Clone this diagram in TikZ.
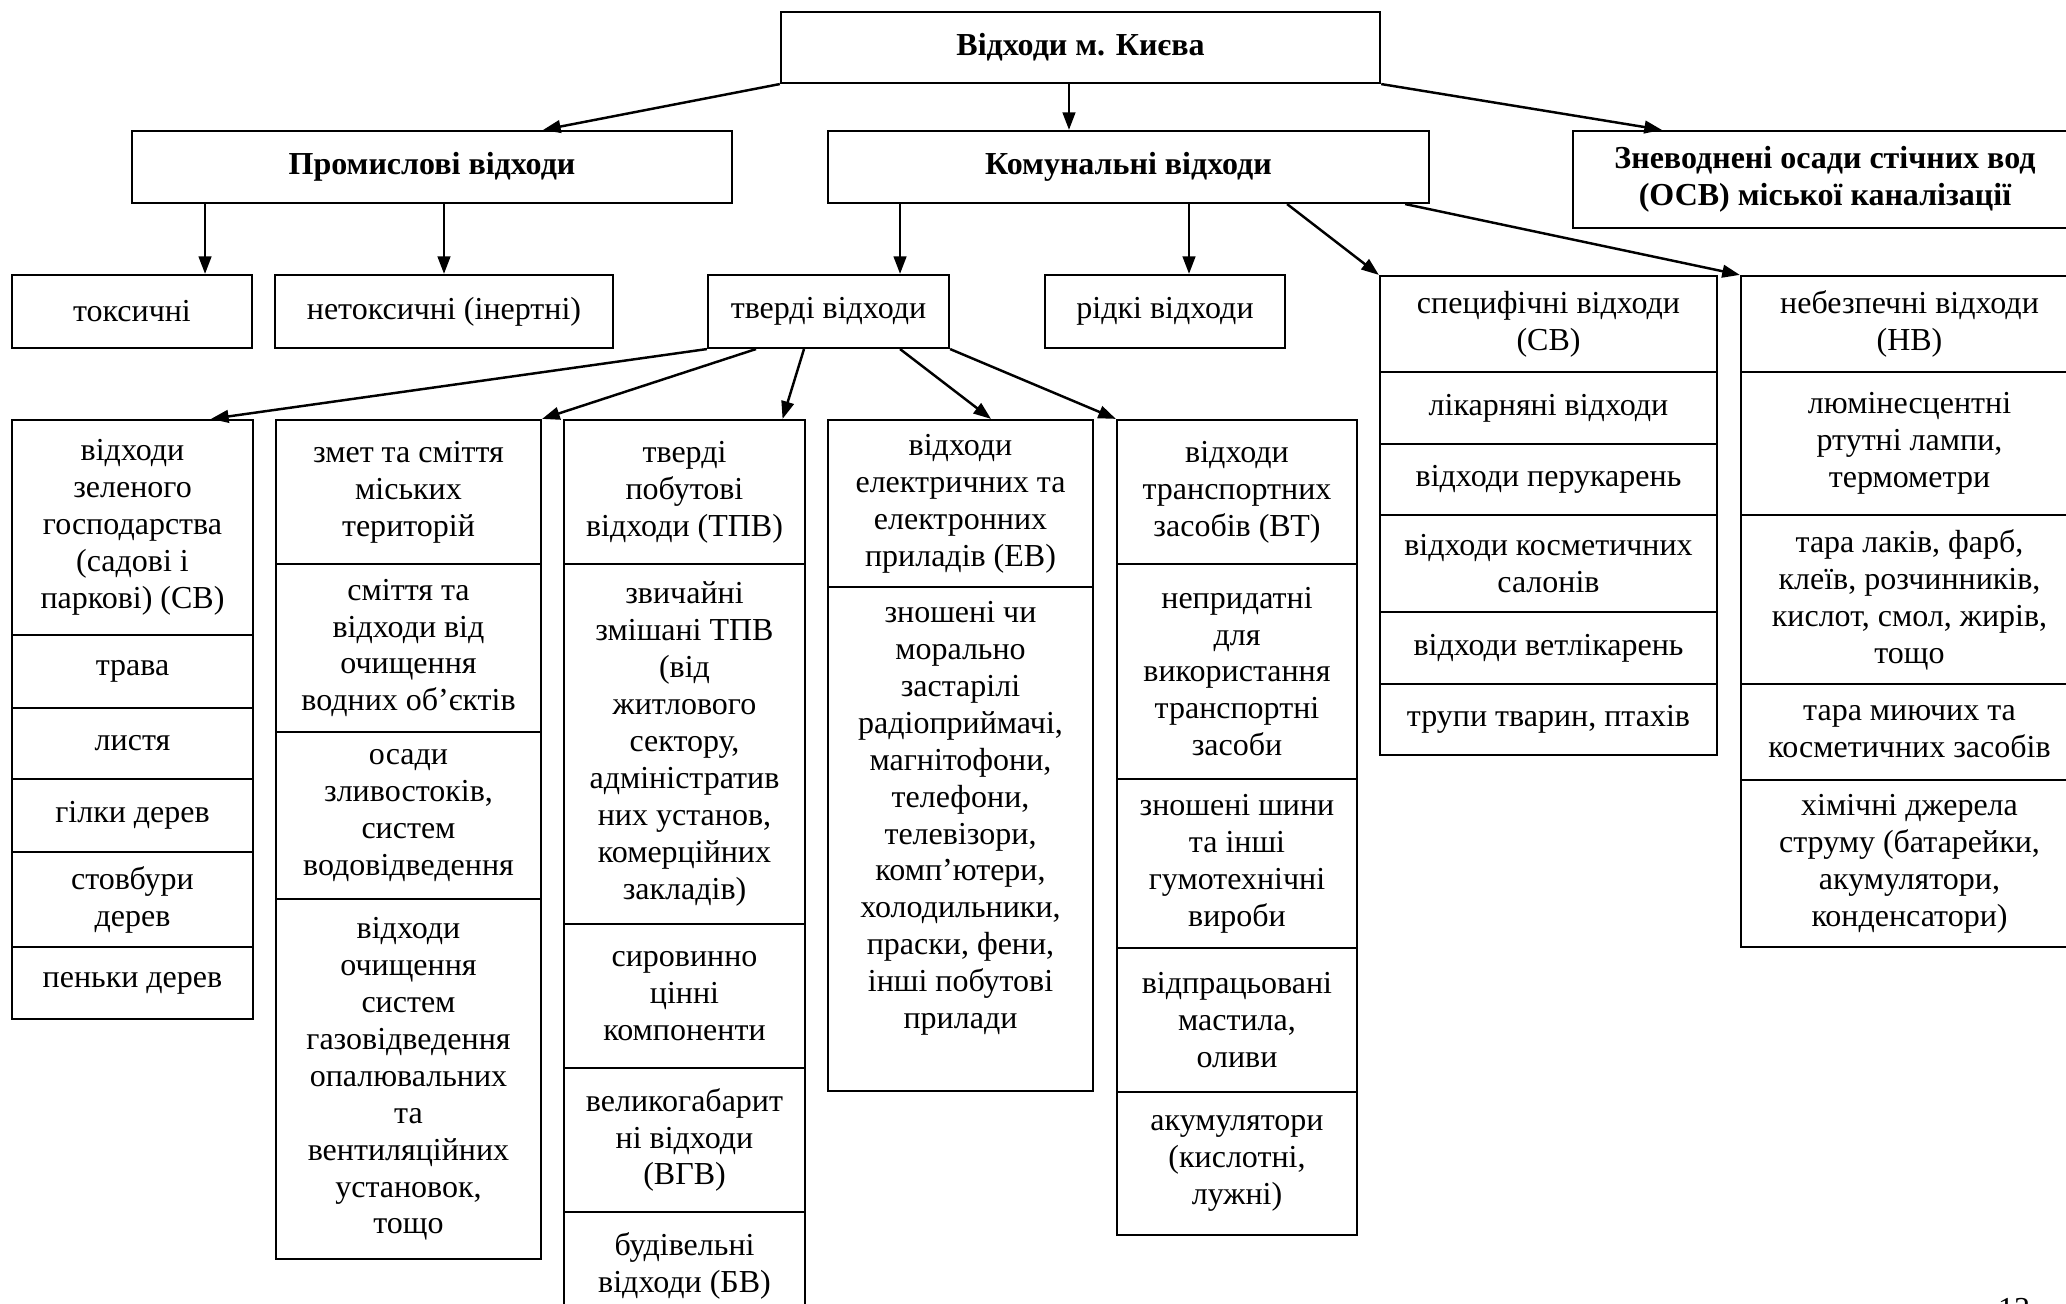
\documentclass[tikz,border=0pt]{standalone}
\usepackage{fontspec}
\setmainfont{Liberation Serif}
\usepackage{tikz}
\usetikzlibrary{arrows.meta,positioning}

\begin{document}
\begin{tikzpicture}[x=0.01cm,y=-0.01cm,>={Triangle[length=5pt,width=3.6pt]},
    box/.style={draw,line width=0.6pt,align=center,inner sep=0pt,
      font=\fontsize{9.1}{10.5}\selectfont},
    head/.style={box,font=\fontsize{9.1}{10.5}\selectfont\bfseries},
    colA/.style={box,minimum width=2.4cm},
    colB/.style={box,minimum width=2.65cm},
    colF/.style={box,minimum width=3.37cm},
    link/.style={->,line width=0.7pt}]
    \useasboundingbox (0,0) rectangle (2066,1304);
    \clip (0,0) rectangle (2066,1304);

    \node[head,minimum width=5.99cm,minimum height=0.71cm] (kyiv) at (1080.5,47.5) {Відходи м. Києва};
    \node[head,minimum width=6cm,minimum height=0.72cm] (prom) at (432,167) {Промислові відходи};
    \node[head,minimum width=6.01cm,minimum height=0.72cm] (komun) at (1128.5,167) {Комунальні відходи};
    \node[head,minimum width=5.04cm,minimum height=0.97cm] (osv) at (1825,179.5) {Зневоднені осади стічних вод\\(ОСВ) міської каналізації};

    \node[colA,minimum height=0.73cm] (toks) at (132,311.5) {токсичні};
    \node[box,minimum width=3.38cm,minimum height=0.73cm] (netoks) at (444,311.5) {нетоксичні (інертні)};
    \node[colA,minimum width=2.41cm,minimum height=0.73cm] (tverdi) at (828.5,311.5) {тверді відходи};
    \node[colA,minimum height=0.73cm] (ridki) at (1165,311.5) {рідкі відходи};

    \node[colA,minimum height=2.15cm] (a1) at (132.5,527.5) {відходи\\зеленого\\господарства\\(садові і\\паркові) (СВ)};
    \node[colA,minimum height=0.73cm] (a2) at (132.5,671.5) {трава};
    \node[colA,minimum height=0.71cm] (a3) at (132.5,743.5) {листя};
    \node[colA,minimum height=0.73cm] (a4) at (132.5,815.5) {гілки дерев};
    \node[colA,minimum height=0.95cm] (a5) at (132.5,899.5) {стовбури\\дерев};
    \node[colA,minimum height=0.72cm] (a6) at (132.5,983) {пеньки дерев};

    \node[colB,minimum height=1.44cm] (b1) at (408.5,492) {змет та сміття\\міських\\територій};
    \node[colB,minimum height=1.68cm] (b2) at (408.5,648) {сміття та\\відходи від\\очищення\\водних об’єктів};
    \node[colB,minimum height=1.67cm] (b3) at (408.5,815.5) {осади\\зливостоків,\\систем\\водовідведення};
    \node[colB,minimum height=3.6cm] (b4) at (408.5,1079) {відходи\\очищення\\систем\\газовідведення\\опалювальних\\та\\вентиляційних\\установок,\\тощо};

    \node[colA,minimum width=2.41cm,minimum height=1.44cm] (c1) at (684.5,492) {тверді\\побутові\\відходи (ТПВ)};
    \node[colA,minimum width=2.41cm,minimum height=3.6cm] (c2) at (684.5,744) {звичайні\\змішані ТПВ\\(від\\житлового\\сектору,\\адміністратив\\них установ,\\комерційних\\закладів)};
    \node[colA,minimum width=2.41cm,minimum height=1.44cm] (c3) at (684.5,996) {сировинно\\цінні\\компоненти};
    \node[colA,minimum width=2.41cm,minimum height=1.44cm] (c4) at (684.5,1140) {великогабарит\\ні відходи\\(ВГВ)};
    \node[colA,minimum width=2.41cm,minimum height=1.08cm] (c5) at (684.5,1266) {будівельні\\відходи (БВ)};

    \node[colB,minimum height=1.67cm] (d1) at (960.5,503.5) {відходи\\електричних та\\електронних\\приладів (ЕВ)};
    \node[colB,minimum height=5.04cm] (d2) at (960.5,839) {зношені чи\\морально\\застарілі\\радіоприймачі,\\магнітофони,\\телефони,\\телевізори,\\комп’ютери,\\холодильники,\\праски, фени,\\інші побутові\\прилади\\\strut};

    \node[colA,minimum height=1.44cm] (e1) at (1237,492) {відходи\\транспортних\\засобів (ВТ)};
    \node[colA,minimum height=2.15cm] (e2) at (1237,671.5) {непридатні\\для\\використання\\транспортні\\засоби};
    \node[colA,minimum height=1.69cm] (e3) at (1237,863.5) {зношені шини\\та інші\\гумотехнічні\\вироби};
    \node[colA,minimum height=1.44cm] (e4) at (1237,1020) {відпрацьовані\\мастила,\\оливи};
    \node[colA,minimum height=1.43cm] (e5) at (1237,1163.5) {акумулятори\\(кислотні,\\лужні)};

    \node[colF,minimum height=0.96cm] (f1) at (1548.5,324) {специфічні відходи\\(СВ)};
    \node[colF,minimum height=0.72cm] (f2) at (1548.5,408) {лікарняні відходи};
    \node[colF,minimum height=0.71cm] (f3) at (1548.5,479.5) {відходи перукарень};
    \node[colF,minimum height=0.97cm] (f4) at (1548.5,563.5) {відходи косметичних\\салонів};
    \node[colF,minimum height=0.72cm] (f5) at (1548.5,648) {відходи ветлікарень};
    \node[colF,minimum height=0.71cm] (f6) at (1548.5,719.5) {трупи тварин, птахів};

    \node[colF,minimum height=0.96cm] (g1) at (1909.5,324) {небезпечні відходи\\(НВ)};
    \node[colF,minimum height=1.43cm] (g2) at (1909.5,443.5) {люмінесцентні\\ртутні лампи,\\термометри};
    \node[colF,minimum height=1.69cm] (g3) at (1909.5,599.5) {тара лаків, фарб,\\клеїв, розчинників,\\кислот, смол, жирів,\\тощо};
    \node[colF,minimum height=0.96cm] (g4) at (1909.5,732) {тара миючих та\\косметичних засобів};
    \node[colF,minimum height=1.67cm] (g5) at (1909.5,863.5) {хімічні джерела\\струму (батарейки,\\акумулятори,\\конденсатори)};

    \node[font=\fontsize{9.1}{10.5}\selectfont,anchor=north] (page) at (2014,1286) {13};

    \draw[link] (kyiv.south west) -- ([xshift=1.11cm]prom.north);
    \draw[link] ([xshift=-0.115cm]kyiv.south) -- ([xshift=-0.115cm]kyiv.south |- komun.north);
    \draw[link] (kyiv.south east) -- ([xshift=-1.63cm]osv.north);
    \draw[link] ([xshift=0.73cm]toks.north |- prom.south) -- ([xshift=0.73cm]toks.north);
    \draw[link] (netoks.north |- prom.south) -- (netoks.north);
    \draw[link] ([xshift=0.715cm]tverdi.north |- komun.south) -- ([xshift=0.715cm]tverdi.north);
    \draw[link] ([xshift=0.24cm]ridki.north |- komun.south) -- ([xshift=0.24cm]ridki.north);
    \draw[link] ([xshift=1.585cm]komun.south) -- (f1.north west);
    \draw[link] ([xshift=2.765cm]komun.south) -- (g1.north west);
    \draw[link] (tverdi.south west) -- ([xshift=0.785cm]a1.north);
    \draw[link] ([xshift=-0.725cm]tverdi.south) -- (b1.north east);
    \draw[link] ([xshift=-0.245cm]tverdi.south) -- ([xshift=0.98cm]c1.north);
    \draw[link] ([xshift=0.715cm]tverdi.south) -- ([xshift=0.305cm]d1.north);
    \draw[link] (tverdi.south east) -- (e1.north west);
\end{tikzpicture}
\end{document}
